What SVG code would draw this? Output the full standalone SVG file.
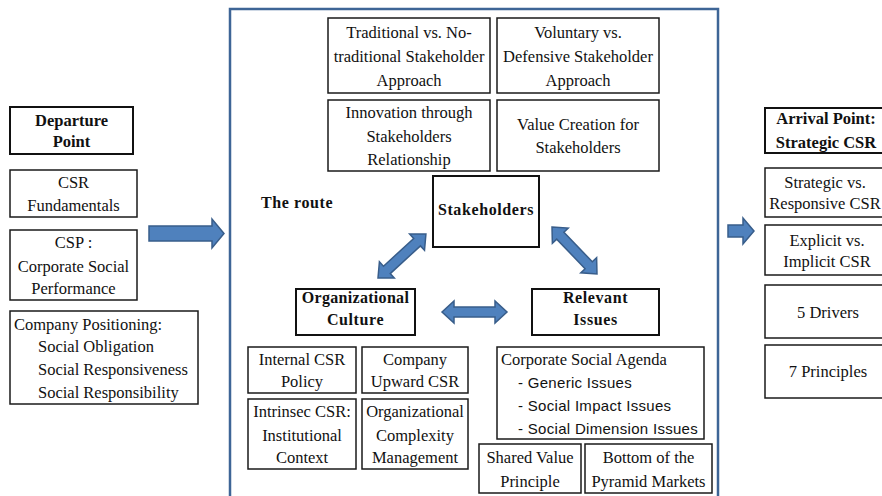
<svg xmlns="http://www.w3.org/2000/svg" xmlns:xlink="http://www.w3.org/1999/xlink" width="882" height="496" viewBox="0 0 882 496">
<style>
.bx{fill:#fff;stroke:#1a1a1a;stroke-width:1.5}
.bb{fill:#fff;stroke:#111;stroke-width:2}
.t{font-family:"Liberation Serif","Times New Roman",serif;font-size:16.5px;fill:#111;text-anchor:middle}
.tl{font-family:"Liberation Serif","Times New Roman",serif;font-size:16.5px;fill:#111}
.b{font-family:"Liberation Serif","Times New Roman",serif;font-size:16.5px;font-weight:bold;fill:#111;text-anchor:middle}
.bs{font-family:"Liberation Serif","Times New Roman",serif;font-size:16px;font-weight:bold;fill:#111;letter-spacing:0.6px}
.s{font-family:"Liberation Sans",Arial,sans-serif;font-size:15px;fill:#111;letter-spacing:0.3px}
.ar{fill:#4F81BD;stroke:#385D8A;stroke-width:1.5;stroke-linejoin:miter}
</style>
<defs>
<polygon id="dbl" class="ar" points="0,0 12,-11 12,-5 53,-5 53,-11 65,0 53,11 53,5 12,5 12,11"/>
</defs>
<rect width="882" height="496" fill="#fff"/>

<rect id="frame" x="230" y="9" width="488" height="492" fill="none" stroke="#3E6596" stroke-width="2.5"/>

<g id="departure"><rect class="bb" x="10" y="107" width="123" height="47"/><text class="b" x="71.5" y="126">Departure</text><text class="b" x="71.5" y="147">Point</text></g>
<g id="csr-fundamentals"><rect class="bx" x="10" y="170" width="127" height="47"/><text class="t" x="73.5" y="188">CSR</text><text class="t" x="73.5" y="211">Fundamentals</text></g>
<g id="csp"><rect class="bx" x="10" y="230" width="127" height="70"/><text class="t" x="73.5" y="248">CSP :</text><text class="t" x="73.5" y="272">Corporate Social</text><text class="t" x="73.5" y="294">Performance</text></g>
<g id="positioning"><rect class="bx" x="10" y="311" width="188" height="93"/><text class="tl" x="14" y="330">Company Positioning:</text><text class="tl" x="38" y="352">Social Obligation</text><text class="tl" x="38" y="375">Social Responsiveness</text><text class="tl" x="38" y="398">Social Responsibility</text></g>

<g id="traditional"><rect class="bx" x="328" y="18" width="162" height="75"/><text class="t" x="409" y="38">Traditional vs. No-</text><text class="t" x="409" y="62">traditional Stakeholder</text><text class="t" x="409" y="86">Approach</text></g>
<g id="voluntary"><rect class="bx" x="497" y="18" width="162" height="75"/><text class="t" x="578" y="38">Voluntary vs.</text><text class="t" x="578" y="62">Defensive Stakeholder</text><text class="t" x="578" y="86">Approach</text></g>
<g id="innovation"><rect class="bx" x="328" y="100" width="162" height="71"/><text class="t" x="409" y="118">Innovation through</text><text class="t" x="409" y="142">Stakeholders</text><text class="t" x="409" y="165">Relationship</text></g>
<g id="value-creation"><rect class="bx" x="497" y="100" width="162" height="71"/><text class="t" x="578" y="130">Value Creation for</text><text class="t" x="578" y="153">Stakeholders</text></g>

<g id="route-label"><text class="bs" x="261" y="208">The route</text></g>
<g id="stakeholders"><rect class="bb" x="433" y="176" width="106" height="71"/><text class="bs" x="486" y="215" text-anchor="middle">Stakeholders</text></g>
<g id="org-culture"><rect class="bb" x="296" y="289" width="119" height="46"/><text class="bs" x="355.5" y="303" text-anchor="middle" style="letter-spacing:0.3px">Organizational</text><text class="bs" x="355.5" y="325" text-anchor="middle">Culture</text></g>
<g id="relevant-issues"><rect class="bb" x="532" y="289" width="127" height="46"/><text class="bs" x="595.5" y="303" text-anchor="middle">Relevant</text><text class="bs" x="595.5" y="325" text-anchor="middle">Issues</text></g>

<g id="internal-csr"><rect class="bx" x="248" y="347" width="108" height="46"/><text class="t" x="302" y="365">Internal CSR</text><text class="t" x="302" y="387">Policy</text></g>
<g id="company-upward"><rect class="bx" x="362" y="347" width="106" height="46"/><text class="t" x="415" y="365">Company</text><text class="t" x="415" y="387">Upward CSR</text></g>
<g id="intrinsec"><rect class="bx" x="248" y="399" width="108" height="70"/><text class="t" x="302" y="417">Intrinsec CSR:</text><text class="t" x="302" y="441">Institutional</text><text class="t" x="302" y="463">Context</text></g>
<g id="org-complexity"><rect class="bx" x="362" y="399" width="106" height="70"/><text class="t" x="415" y="417">Organizational</text><text class="t" x="415" y="441">Complexity</text><text class="t" x="415" y="463">Management</text></g>
<g id="social-agenda"><rect class="bx" x="497" y="347" width="207" height="92"/><text class="tl" x="501" y="365">Corporate Social Agenda</text><text class="s" x="518" y="388">- Generic Issues</text><text class="s" x="518" y="411">- Social Impact Issues</text><text class="s" x="518" y="434">- Social Dimension Issues</text></g>
<g id="shared-value"><rect class="bx" x="479" y="444" width="102" height="49"/><text class="t" x="530" y="463">Shared Value</text><text class="t" x="530" y="487">Principle</text></g>
<g id="bop"><rect class="bx" x="585" y="444" width="127" height="49"/><text class="t" x="648.5" y="463">Bottom of the</text><text class="t" x="648.5" y="487">Pyramid Markets</text></g>

<g id="arrival"><rect class="bb" x="765" y="108" width="130" height="45"/><text class="b" x="826" y="124">Arrival Point:</text><text class="b" x="826" y="148">Strategic CSR</text></g>
<g id="strategic-responsive"><rect class="bx" x="765" y="168" width="130" height="49"/><text class="t" x="825" y="188">Strategic vs.</text><text class="t" x="825" y="209">Responsive CSR</text></g>
<g id="explicit-implicit"><rect class="bx" x="765" y="225" width="130" height="50"/><text class="t" x="827" y="246">Explicit vs.</text><text class="t" x="827" y="267">Implicit CSR</text></g>
<g id="drivers"><rect class="bx" x="765" y="285" width="130" height="53"/><text class="t" x="828" y="318">5 Drivers</text></g>
<g id="principles"><rect class="bx" x="765" y="345" width="130" height="53"/><text class="t" x="828" y="377">7 Principles</text></g>

<g id="connectors">
<polygon class="ar" points="149,226 212,226 212,219 224,233.5 212,248 212,241 149,241"/>
<polygon class="ar" points="728,225 743,225 743,218 754,231 743,244 743,237 728,237"/>
<use xlink:href="#dbl" transform="translate(378,278) rotate(-42.5)"/>
<use xlink:href="#dbl" transform="translate(552,227) rotate(46.2)"/>
<use xlink:href="#dbl" transform="translate(442,312)"/>
</g>
</svg>
